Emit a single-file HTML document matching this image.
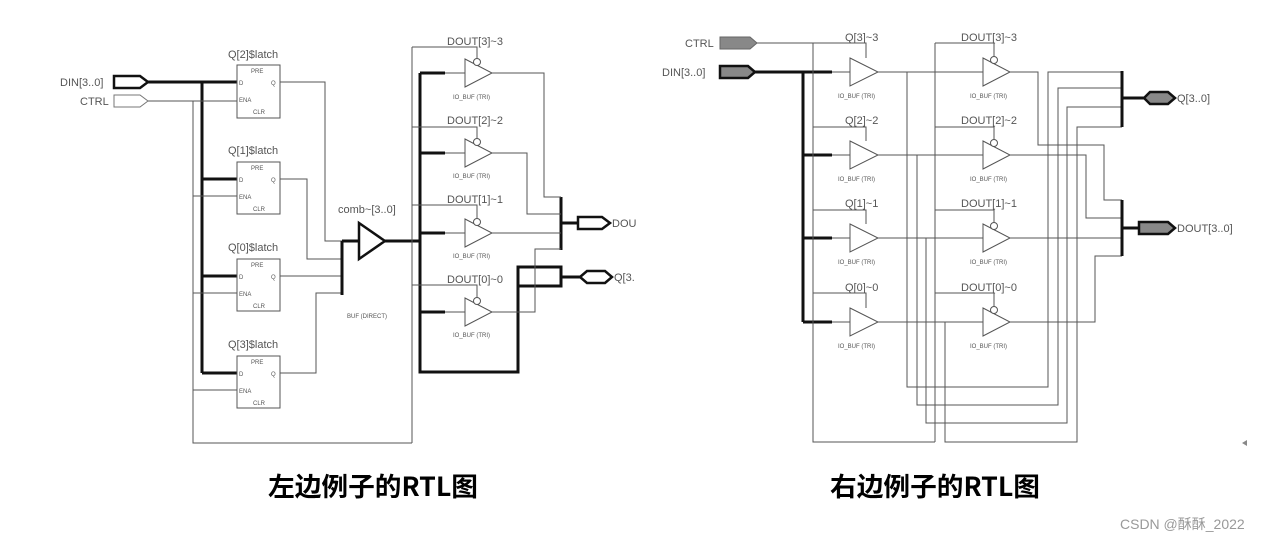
<!DOCTYPE html>
<html><head><meta charset="utf-8"><style>
html,body{margin:0;padding:0;background:#fff;width:1280px;height:541px;overflow:hidden;}
svg{display:block;}
.t{font-family:"Liberation Sans",sans-serif;fill:#555;font-size:11px;}
.s{font-family:"Liberation Sans",sans-serif;fill:#555;font-size:6px;}
.w{stroke:#555;stroke-width:1;fill:none;}
.b{stroke:#111;stroke-width:3;fill:none;}
</style></head><body>
<svg width="1280" height="541" viewBox="0 0 1280 541" xmlns="http://www.w3.org/2000/svg">

<!-- ===== LEFT ===== -->
<text class="t" x="60" y="86">DIN[3..0]</text>
<text class="t" x="80" y="105">CTRL</text>
<path d="M114 76 H140 L148 82 L140 88 H114 Z" fill="#fff" stroke="#111" stroke-width="2.5"/>
<path d="M114 95 H140 L148 101 L140 107 H114 Z" fill="#fff" stroke="#777" stroke-width="1"/>
<path class="b" d="M148 82 H237 M202 82 V373 M202 179 H237 M202 276 H237 M202 373 H237"/>
<path class="w" d="M148 101 H237 M193 101 V443 H412 M193 196 H237 M193 293 H237 M193 390 H237"/>
<g>
<rect x="237" y="65" width="43" height="53" fill="#fff" stroke="#555"/>
<rect x="237" y="162" width="43" height="52" fill="#fff" stroke="#555"/>
<rect x="237" y="259" width="43" height="52" fill="#fff" stroke="#555"/>
<rect x="237" y="356" width="43" height="52" fill="#fff" stroke="#555"/>
</g>
<text class="t" x="228" y="58">Q[2]$latch</text>
<text class="t" x="228" y="154">Q[1]$latch</text>
<text class="t" x="228" y="251">Q[0]$latch</text>
<text class="t" x="228" y="348">Q[3]$latch</text>
<g class="s">
<text x="251" y="73">PRE</text><text x="239" y="85">D</text><text x="271" y="85">Q</text><text x="239" y="102">ENA</text><text x="253" y="114">CLR</text>
<text x="251" y="170">PRE</text><text x="239" y="182">D</text><text x="271" y="182">Q</text><text x="239" y="199">ENA</text><text x="253" y="211">CLR</text>
<text x="251" y="267">PRE</text><text x="239" y="279">D</text><text x="271" y="279">Q</text><text x="239" y="296">ENA</text><text x="253" y="308">CLR</text>
<text x="251" y="364">PRE</text><text x="239" y="376">D</text><text x="271" y="376">Q</text><text x="239" y="393">ENA</text><text x="253" y="405">CLR</text>
</g>
<path class="w" d="M280 82 H325 V241 H342 M280 179 H307 V259 H342 M280 276 H342 M280 373 H316 V293 H342"/>
<path class="b" d="M342 241 V295 M342 241 H359 M385 241 H420"/>
<path d="M359 223 L385 241 L359 259 Z" fill="#fff" stroke="#111" stroke-width="2.5"/>
<text class="t" x="338" y="213">comb~[3..0]</text>
<text class="s" x="347" y="318">BUF (DIRECT)</text>
<path class="b" d="M420 73 V372 H518 V267 H561 V286 H518 M420 73 H445 M420 153 H445 M420 233 H445 M420 312 H445 M561 197 V250 M561 223 H578 M561 277 H580"/>
<path class="w" d="M445 73 H465 M445 153 H465 M445 233 H465 M445 312 H465"/>
<path class="w" d="M412 47 V443 M412 47 H477 V59 M412 127 H477 V139 M412 205 H477 V219 M412 285 H477 V298"/>
<g fill="#fff" stroke="#555">
<path d="M465 59 L492 73 L465 87 Z"/><circle cx="477" cy="62" r="3.5"/>
<path d="M465 139 L492 153 L465 167 Z"/><circle cx="477" cy="142" r="3.5"/>
<path d="M465 219 L492 233 L465 247 Z"/><circle cx="477" cy="222" r="3.5"/>
<path d="M465 298 L492 312 L465 326 Z"/><circle cx="477" cy="301" r="3.5"/>
</g>
<g class="t"><text x="447" y="45">DOUT[3]~3</text><text x="447" y="124">DOUT[2]~2</text><text x="447" y="203">DOUT[1]~1</text><text x="447" y="283">DOUT[0]~0</text></g>
<g class="s"><text x="453" y="99">IO_BUF (TRI)</text><text x="453" y="178">IO_BUF (TRI)</text><text x="453" y="258">IO_BUF (TRI)</text><text x="453" y="337">IO_BUF (TRI)</text></g>
<path class="w" d="M492 73 H544 V197 H561 M492 153 H527 V214 H561 M492 233 H561 M492 312 H535 V249 H561"/>
<path d="M578 217 H602 L610 223 L602 229 H578 Z" fill="#fff" stroke="#111" stroke-width="2.5"/>
<path d="M580 277 L587 271 H605 L612 277 L605 283 H587 Z" fill="#fff" stroke="#111" stroke-width="2.5"/>
<text class="t" x="612" y="227">DOU</text>
<text class="t" x="614" y="281">Q[3.</text>

<!-- ===== RIGHT ===== -->
<text class="t" x="685" y="47">CTRL</text>
<text class="t" x="662" y="76">DIN[3..0]</text>
<path d="M720 37 H750 L757 43 L750 49 H720 Z" fill="#888" stroke="#666"/>
<path d="M720 66 H748 L755 72 L748 78 H720 Z" fill="#888" stroke="#111" stroke-width="2.5"/>
<path class="b" d="M755 72 H832 M803 72 V322 M803 155 H832 M803 238 H832 M803 322 H832"/>
<path class="w" d="M832 72 H850 M832 155 H850 M832 238 H850 M832 322 H850"/>
<path class="w" d="M757 43 H866 V58 M813 43 V442 H935 M813 127 H866 V141 M813 210 H866 V224 M813 293 H866 V308"/>
<g fill="#fff" stroke="#555">
<path d="M850 58 L878 72 L850 86 Z"/>
<path d="M850 141 L878 155 L850 169 Z"/>
<path d="M850 224 L878 238 L850 252 Z"/>
<path d="M850 308 L878 322 L850 336 Z"/>
</g>
<g class="t"><text x="845" y="41">Q[3]~3</text><text x="845" y="124">Q[2]~2</text><text x="845" y="207">Q[1]~1</text><text x="845" y="291">Q[0]~0</text></g>
<g class="s"><text x="838" y="98">IO_BUF (TRI)</text><text x="838" y="181">IO_BUF (TRI)</text><text x="838" y="264">IO_BUF (TRI)</text><text x="838" y="348">IO_BUF (TRI)</text></g>
<path class="w" d="M878 72 H983 M878 155 H983 M878 238 H983 M878 322 H983"/>
<path class="w" d="M935 43 V442 M935 43 H994 V58 M935 127 H994 V141 M935 210 H994 V224 M935 293 H994 V308"/>
<g fill="#fff" stroke="#555">
<path d="M983 58 L1010 72 L983 86 Z"/><circle cx="994" cy="60" r="3.5"/>
<path d="M983 141 L1010 155 L983 169 Z"/><circle cx="994" cy="143" r="3.5"/>
<path d="M983 224 L1010 238 L983 252 Z"/><circle cx="994" cy="226" r="3.5"/>
<path d="M983 308 L1010 322 L983 336 Z"/><circle cx="994" cy="310" r="3.5"/>
</g>
<g class="t"><text x="961" y="41">DOUT[3]~3</text><text x="961" y="124">DOUT[2]~2</text><text x="961" y="207">DOUT[1]~1</text><text x="961" y="291">DOUT[0]~0</text></g>
<g class="s"><text x="970" y="98">IO_BUF (TRI)</text><text x="970" y="181">IO_BUF (TRI)</text><text x="970" y="264">IO_BUF (TRI)</text><text x="970" y="348">IO_BUF (TRI)</text></g>
<path class="w" d="M907 72 V387 H1048 V72 H1122 M917 155 V405 H1058 V88 H1122 M926 238 V423 H1067 V107 H1122 M945 322 V442 H1077 V127 H1122"/>
<path class="w" d="M1010 72 H1038 V145 H1104 V200 H1122 M1010 155 H1086 V218 H1122 M1010 238 H1122 M1010 322 H1095 V256 H1122"/>
<path class="b" d="M1122 71 V127 M1122 98 H1144 M1122 200 V256 M1122 228 H1139"/>
<path d="M1144 98 L1150 92 H1168 L1175 98 L1168 104 H1150 Z" fill="#888" stroke="#111" stroke-width="2.5"/>
<path d="M1139 222 H1168 L1175 228 L1168 234 H1139 Z" fill="#888" stroke="#111" stroke-width="2.5"/>
<text class="t" x="1177" y="102">Q[3..0]</text>
<text class="t" x="1177" y="232">DOUT[3..0]</text>
<path d="M1247 440 L1242 443 L1247 446 Z" fill="#888"/>

<text x="268" y="496" font-family="'Noto Sans CJK SC',sans-serif" font-weight="bold" font-size="26" fill="#000" textLength="210" lengthAdjust="spacingAndGlyphs">左边例子的RTL图</text>
<text x="830" y="496" font-family="'Noto Sans CJK SC',sans-serif" font-weight="bold" font-size="26" fill="#000" textLength="210" lengthAdjust="spacingAndGlyphs">右边例子的RTL图</text>
<text x="1120" y="529" font-family="'Liberation Sans','Noto Sans CJK SC',sans-serif" font-size="14" fill="#999">CSDN @酥酥_2022</text>
</svg>
</body></html>
